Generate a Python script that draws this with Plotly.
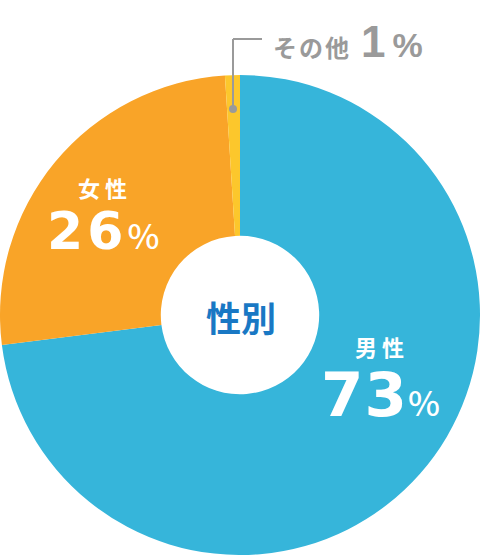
import plotly.graph_objects as go

# data
labels = ["男性", "女性", "その他"]
values = [73, 26, 1]
colors = ["#36b5da", "#f9a428", "#fcc72c"]
center_label = "性別"

W, H = 480, 555


def px(x, y):
    # pixel -> paper coords
    return x / W, 1 - y / H


fig = go.Figure()
fig.add_trace(go.Pie(
    labels=labels, values=values, sort=False, direction="clockwise",
    rotation=0, hole=0.33, marker=dict(colors=colors, line=dict(width=0)),
    textinfo="none", hoverinfo="label+percent", showlegend=False,
    domain=dict(x=[0, 1], y=[0, 480 / H]),
))

jp = "Noto Sans CJK JP"
num = "DejaVu Sans"
ann = []

# center title
x, y = px(241, 316)
ann.append(dict(x=x, y=y, text=center_label, showarrow=False,
                xanchor="center", yanchor="middle",
                font=dict(family=jp, size=35, color="#1978c4", weight="bold")))

# 男性 / 女性 blocks: (index, center x, label y, value y, value size, spacing)
blocks = [(0, 380, 346, 394, 61, 1), (1, 103, 187, 231, 52, 4)]
for i, cx, ly, vy, vs, sp in blocks:
    x, y = px(cx + 2, ly)
    ann.append(dict(x=x, y=y, text="<span style='letter-spacing:5px'>%s</span>" % labels[i],
                    showarrow=False, xanchor="center", yanchor="middle",
                    font=dict(family=jp, size=22, color="white", weight="bold")))
    x, y = px(cx, vy)
    ann.append(dict(x=x, y=y, showarrow=False, xanchor="center", yanchor="middle",
                    text="<span style='letter-spacing:%dpx'>%d</span>"
                         "<span style='font-size:34px;font-family:%s;font-weight:500'>%%</span>"
                         % (sp, values[i], jp),
                    font=dict(family=num, size=vs, color="white", weight="bold")))

# その他 callout
gray = "#9a9a9a"
x, y = px(271, 38)
ann.append(dict(x=x, y=y, xanchor="left", yanchor="middle", showarrow=False,
                text="<span style='font-size:24px;letter-spacing:2px'>%s</span> "
                     "<span style='font-family:Liberation Sans;letter-spacing:7px'>%d</span>"
                     "<span style='font-size:34px;font-family:Liberation Sans'>%%</span>"
                     % (labels[2], values[2]),
                font=dict(family=jp, size=44, color=gray, weight="bold")))

shapes = [
    dict(type="line", xref="paper", yref="paper",
         x0=233 / W, y0=1 - 109 / H, x1=233 / W, y1=1 - 39 / H,
         line=dict(color=gray, width=2)),
    dict(type="line", xref="paper", yref="paper",
         x0=233 / W, y0=1 - 39 / H, x1=262 / W, y1=1 - 39 / H,
         line=dict(color=gray, width=2)),
    dict(type="circle", xref="paper", yref="paper",
         x0=229 / W, y0=1 - 113 / H, x1=237 / W, y1=1 - 105 / H,
         fillcolor=gray, line=dict(width=0)),
]

fig.update_layout(
    width=W, height=H, margin=dict(l=0, r=0, t=0, b=0),
    paper_bgcolor="white", plot_bgcolor="white",
    annotations=ann, shapes=shapes,
)

fig.write_html("out.html", config={"displayModeBar": False},
               post_script="document.body.style.margin='0';")
